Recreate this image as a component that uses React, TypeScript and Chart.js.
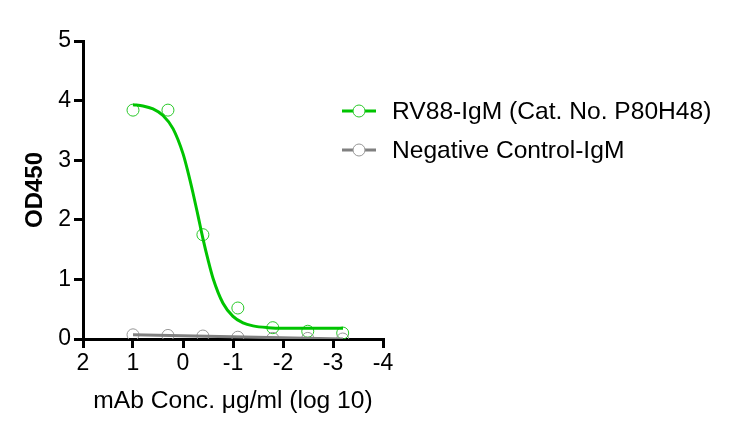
import React, { useEffect, useRef } from "react";
import { Chart, registerables } from "chart.js";

Chart.register(...registerables);

// Log10 concentrations (µg/ml), 5-fold dilution series
const logConc = [1, 0.301, -0.398, -1.097, -1.796, -2.495, -3.194];
// OD450 readings
const rv88Values = [3.84, 3.84, 1.75, 0.52, 0.19, 0.13, 0.1];
const negValues = [0.07, 0.06, 0.05, 0.03, 0.01, 0.01, 0.0];
// Fitted curve
const fitX = [1, 0.8, 0.6, 0.4, 0.2, 0.0, -0.1, -0.2, -0.3, -0.4, -0.5, -0.6, -0.8, -1.0, -1.2, -1.4, -1.7, -2.0, -2.5, -3.2];
const fitY = [3.93, 3.91, 3.86, 3.75, 3.53, 3.11, 2.8, 2.45, 2.07, 1.68, 1.33, 1.02, 0.6, 0.38, 0.27, 0.22, 0.19, 0.18, 0.18, 0.18];
const negFitX = [1, -3.2];
const negFitY = [0.07, 0.0];
const xTicks = [2, 1, 0, -1, -2, -3, -4];
const yTicks = [0, 1, 2, 3, 4, 5];
const seriesNames = ["RV88-IgM (Cat. No. P80H48)", "Negative Control-IgM"];

const GREEN = "rgb(0,196,0)";
const GREEN_PT = "rgb(40,200,40)";
const GRAY = "rgb(128,128,128)";
const GRAY_PT = "rgb(150,150,150)";
const FONT = "'Liberation Sans', Arial, sans-serif";

const legendPlugin = {
  id: "customLegend",
  afterDraw(chart: any) {
    const ctx = chart.ctx;
    const rows = [
      { y: 103, line: GREEN, pt: GREEN_PT, text: seriesNames[0] },
      { y: 142, line: GRAY, pt: GRAY_PT, text: seriesNames[1] },
    ];
    ctx.save();
    rows.forEach((r) => {
      ctx.strokeStyle = r.line;
      ctx.lineWidth = 3;
      ctx.beginPath();
      ctx.moveTo(334, r.y);
      ctx.lineTo(368, r.y);
      ctx.stroke();
      ctx.strokeStyle = r.pt;
      ctx.lineWidth = 1;
      ctx.fillStyle = "white";
      ctx.beginPath();
      ctx.arc(351, r.y, 6, 0, Math.PI * 2);
      ctx.fill();
      ctx.stroke();
      ctx.fillStyle = "black";
      ctx.font = `24.6px ${FONT}`;
      ctx.textBaseline = "middle";
      ctx.textAlign = "left";
      ctx.fillText(r.text, 384, r.y + 1);
    });
    ctx.restore();
  },
};

export default function App() {
  const ref = useRef<HTMLCanvasElement | null>(null);
  useEffect(() => {
    if (!ref.current) return;
    const chart = new Chart(ref.current, {
      type: "scatter",
      data: {
        datasets: [
          {
            type: "line",
            data: fitX.map((x, i) => ({ x, y: fitY[i] })),
            borderColor: GREEN,
            borderWidth: 3,
            pointRadius: 0,
            cubicInterpolationMode: "monotone",
            fill: false,
          },
          {
            type: "line",
            data: negFitX.map((x, i) => ({ x, y: negFitY[i] })),
            borderColor: GRAY,
            borderWidth: 3,
            pointRadius: 0,
            fill: false,
          },
          {
            data: logConc.map((x, i) => ({ x, y: negValues[i] })),
            borderColor: GRAY_PT,
            backgroundColor: "rgba(0,0,0,0)",
            borderWidth: 1,
            pointRadius: 6,
          },
          {
            data: logConc.map((x, i) => ({ x, y: rv88Values[i] })),
            borderColor: GREEN_PT,
            backgroundColor: "rgba(0,0,0,0)",
            borderWidth: 1,
            pointRadius: 6,
          },
        ],
      },
      options: {
        animation: false,
        responsive: true,
        maintainAspectRatio: false,
        layout: { padding: { left: 0, top: 33, right: 346, bottom: 0 } },
        plugins: { legend: { display: false }, tooltip: { enabled: false } },
        scales: {
          x: {
            type: "linear",
            min: -4,
            max: 2,
            reverse: true,
            afterBuildTicks: (s: any) => {
              s.ticks = xTicks.map((v) => ({ value: v }));
            },
            afterFit: (s: any) => {
              s.height = 88;
            },
            grid: { drawOnChartArea: false, drawTicks: true, tickLength: 9, lineWidth: 3, color: "black" },
            border: { display: true, color: "black", width: 3 },
            ticks: { color: "black", font: { family: FONT, size: 23 }, padding: 2, maxRotation: 0 },
            title: {
              display: true,
              text: "mAb Conc. μg/ml (log 10)",
              color: "black",
              font: { family: FONT, size: 24.6 },
              padding: { top: 0, bottom: 11 },
            },
          },
          y: {
            type: "linear",
            min: 0,
            max: 5,
            afterBuildTicks: (s: any) => {
              s.ticks = yTicks.map((v) => ({ value: v }));
            },
            afterFit: (s: any) => {
              s.width = 75;
            },
            grid: { drawOnChartArea: false, drawTicks: true, tickLength: 9, lineWidth: 3, color: "black" },
            border: { display: true, color: "black", width: 3 },
            ticks: { color: "black", font: { family: FONT, size: 23 }, padding: 3 },
            title: {
              display: true,
              text: "OD450",
              color: "black",
              font: { family: FONT, size: 24, weight: "bold" },
              padding: { top: 13, bottom: 0 },
            },
          },
        },
      },
      plugins: [legendPlugin],
    } as any);
    return () => chart.destroy();
  }, []);
  return (
    <div style={{ width: 721, height: 419, position: "relative" }}>
      <canvas ref={ref} />
    </div>
  );
}
